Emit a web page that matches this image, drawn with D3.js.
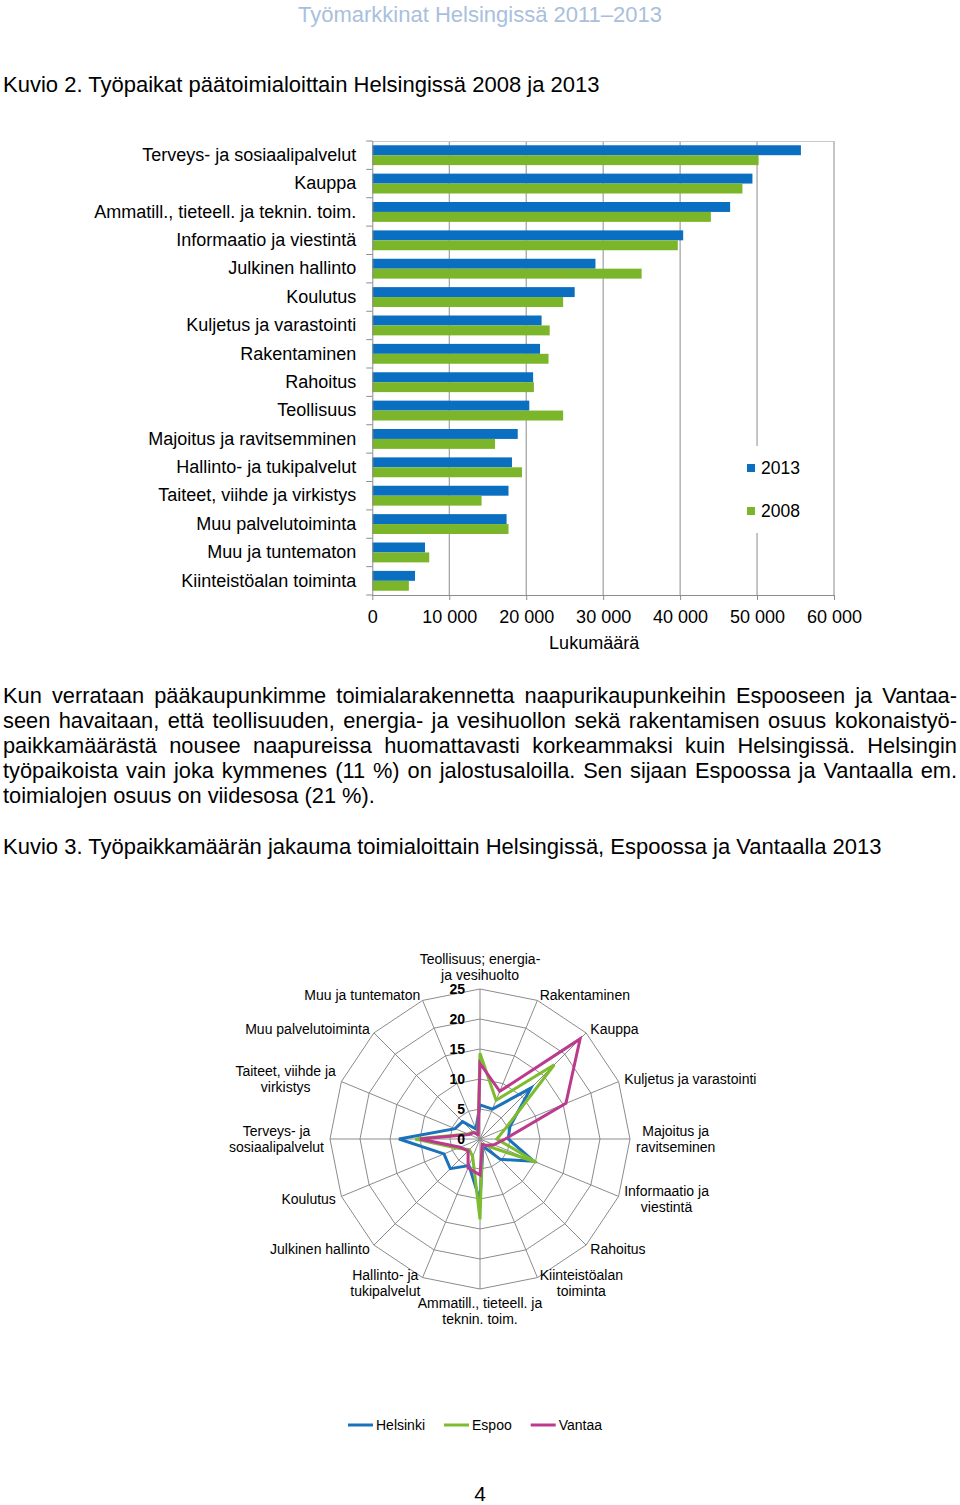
<!DOCTYPE html>
<html><head><meta charset="utf-8">
<script src="https://cdn.jsdelivr.net/npm/d3@7"></script>
<style>
body{margin:0;background:#fff}
svg{display:block}
text{font-family:"Liberation Sans",Arial,Helvetica,sans-serif}
</style>
</head><body>
<svg id="page" width="960" height="1505"></svg>
<script>
// ---------- DATA ----------
const headerText = "Työmarkkinat Helsingissä 2011–2013";
const title2 = "Kuvio 2. Työpaikat päätoimialoittain Helsingissä 2008 ja 2013";
const title3 = "Kuvio 3. Työpaikkamäärän jakauma toimialoittain Helsingissä, Espoossa ja Vantaalla 2013";
const paragraphLines = [
  "Kun verrataan pääkaupunkimme toimialarakennetta naapurikaupunkeihin Espooseen ja Vantaa-",
  "seen havaitaan, että teollisuuden, energia- ja vesihuollon sekä rakentamisen osuus kokonaistyö-",
  "paikkamäärästä nousee naapureissa huomattavasti korkeammaksi kuin Helsingissä. Helsingin",
  "työpaikoista vain joka kymmenes (11 %) on jalostusaloilla. Sen sijaan Espoossa ja Vantaalla em.",
  "toimialojen osuus on viidesosa (21 %)."
];

const barCategories = [
  "Terveys- ja sosiaalipalvelut","Kauppa","Ammatill., tieteell. ja  teknin. toim.",
  "Informaatio ja viestintä","Julkinen hallinto","Koulutus","Kuljetus ja varastointi",
  "Rakentaminen","Rahoitus","Teollisuus","Majoitus ja ravitsemminen",
  "Hallinto- ja tukipalvelut","Taiteet, viihde ja virkistys","Muu palvelutoiminta",
  "Muu ja tuntematon","Kiinteistöalan toiminta"
];
const values2013 = [55700,49400,46500,40400,29000,26300,22000,21800,20900,20400,18900,18150,17700,17450,6850,5550];
const values2008 = [50200,48100,44000,39700,35000,24800,23050,22900,21000,24800,15950,19450,14200,17700,7400,4750];
const barYears = ["2013","2008"];
const xTickValues = [0,10000,20000,30000,40000,50000,60000];
const xAxisTitle = "Lukumäärä";

const radarAxes = [
  "Teollisuus; energia-\nja vesihuolto","Rakentaminen","Kauppa","Kuljetus ja varastointi",
  "Majoitus ja\nravitseminen","Informaatio ja\nviestintä","Rahoitus","Kiinteistöalan\ntoiminta",
  "Ammatill., tieteell. ja\nteknin. toim.","Hallinto- ja\ntukipalvelut","Julkinen hallinto","Koulutus",
  "Terveys- ja\nsosiaalipalvelut","Taiteet, viihde ja\nvirkistys","Muu palvelutoiminta","Muu ja tuntematon"
];
const radarSeriesNames = ["Helsinki","Espoo","Vantaa"];
const helsinki = [5.7,5.4,12.0,5.4,4.7,9.7,4.8,1.3,10.3,4.8,7.0,6.5,13.5,4.5,4.1,1.8];
const espoo    = [14.3,7.0,17.5,4.6,2.8,10.2,1.6,1.0,13.4,3.2,2.5,4.0,10.8,2.2,1.6,0.9];
const vantaa   = [12.6,8.6,23.6,15.5,4.2,2.5,1.5,1.0,6.0,5.2,2.8,3.6,10.0,2.0,1.5,0.8];
const radarTicks = [0,5,10,15,20,25];
const pageNumber = "4";

// ---------- STYLE ----------
const C2013 = "#0a6ec1", C2008 = "#7ab52a";
const radarColors = ["#1a72bd","#7dbb2f","#bb3a8e"];
const gridGray = "#8c8c8c";
const FONT = '"Liberation Sans",Arial,sans-serif';

const svg = d3.select("#page");
svg.append("rect").attr("width",960).attr("height",1505).attr("fill","#fff");

// header
svg.append("text").attr("x",480).attr("y",22).attr("text-anchor","middle")
  .attr("font-size",22).attr("fill","#a9c0dc").text(headerText);
svg.append("text").attr("x",3).attr("y",92).attr("font-size",22).attr("fill","#000").text(title2);

// ---------- BAR CHART ----------
const bx0 = 372.3, bx1 = 834, by0 = 141, by1 = 595;
const x = d3.scaleLinear().domain([0,60000]).range([bx0,bx1]);
const y = d3.scaleBand().domain(barCategories).range([by0,by1]).paddingInner(0.3).paddingOuter(0.15);
const yIn = d3.scaleBand().domain(barYears).range([0,y.bandwidth()]);

const bar = svg.append("g");
bar.append("g").selectAll("line").data(xTickValues.slice(1)).join("line")
  .attr("x1",d=>x(d)).attr("x2",d=>x(d)).attr("y1",by0).attr("y2",by1)
  .attr("stroke",gridGray).attr("stroke-width",1);
bar.append("line").attr("x1",bx0).attr("x2",bx1).attr("y1",by0+0.5).attr("y2",by0+0.5)
  .attr("stroke","#c8c8c8").attr("stroke-width",1);

const rows = barCategories.map((c,i)=>({cat:c, vals:[{year:"2013",v:values2013[i]},{year:"2008",v:values2008[i]}]}));
const rowG = bar.append("g").selectAll("g").data(rows).join("g")
  .attr("transform",d=>`translate(0,${y(d.cat)})`);
rowG.selectAll("rect").data(d=>d.vals).join("rect")
  .attr("x",x(0)).attr("y",d=>yIn(d.year)).attr("height",yIn.bandwidth())
  .attr("width",d=>x(d.v)-x(0))
  .attr("fill",d=>d.year==="2013"?C2013:C2008);

const xAxis = d3.axisBottom(x).tickValues(xTickValues).tickSize(5)
  .tickFormat(d=>d3.format(",")(d).replace(/,/g," "));
const xg = bar.append("g").attr("transform",`translate(0,${by1})`).call(xAxis);
xg.select(".domain").attr("stroke",gridGray).attr("d",`M${bx0},0.5H${bx1}`);
xg.selectAll(".tick line").attr("stroke",gridGray);
xg.selectAll(".tick text").attr("font-size",18).attr("fill","#000").attr("y",15).attr("dy","0.71em")
  .style("font-family",FONT);

const yAxis = d3.axisLeft(y).tickSize(0).tickPadding(16);
const yg = bar.append("g").attr("transform",`translate(${bx0},0)`).call(yAxis);
yg.select(".domain").attr("stroke",gridGray).attr("d",`M0.5,${by0}V${by1}`);
yg.selectAll(".tick text").attr("font-size",18).attr("fill","#000")
  .style("font-family",FONT);
const boundaries = d3.range(barCategories.length+1).map(i=>by0 + i*y.step());
yg.append("g").selectAll("line").data(boundaries).join("line")
  .attr("x1",-6).attr("x2",0).attr("y1",d=>d).attr("y2",d=>d).attr("stroke",gridGray);

bar.append("text").attr("x",(bx0+bx1)/2-9).attr("y",649).attr("text-anchor","middle")
  .attr("font-size",18).text(xAxisTitle);

const lg = bar.append("g");
lg.append("rect").attr("x",742).attr("y",446).attr("width",80).attr("height",87).attr("fill","#fff");
barYears.forEach((yr,i)=>{
  const cy = 468 + i*43;
  lg.append("rect").attr("x",747).attr("y",cy-4).attr("width",8).attr("height",8)
    .attr("fill",yr==="2013"?C2013:C2008);
  lg.append("text").attr("x",761).attr("y",cy+6).attr("font-size",17.5).text(yr);
});

// ---------- PARAGRAPH ----------
const para = svg.append("g").attr("font-size",21.8);
paragraphLines.forEach((line,li)=>{
  const baseY = 703 + li*25;
  const t = para.append("text").attr("y",baseY);
  const words = line.split(" ");
  const spans = words.map(w=>t.append("tspan").text(w));
  const widths = spans.map(s=>s.node().getComputedTextLength());
  const total = d3.sum(widths);
  const justify = li < paragraphLines.length-1;
  const gap = justify ? (957-3-total)/(words.length-1) : 6;
  let cx = 3;
  spans.forEach((s,i)=>{ s.attr("x",cx); cx += widths[i] + gap; });
});

svg.append("text").attr("x",3).attr("y",854).attr("font-size",22).text(title3);

// ---------- RADAR ----------
const rcx = 480, rcy = 1139, R = 150;
const rr = d3.scaleLinear().domain([0,25]).range([0,R]);
const n = radarAxes.length;
const ang = d3.scaleLinear().domain([0,n]).range([0,2*Math.PI]);
const radar = svg.append("g").attr("transform",`translate(${rcx},${rcy})`);

const ringLine = d3.lineRadial().angle((d,i)=>ang(i)).radius(d=>rr(d)).curve(d3.curveLinearClosed);
radar.append("g").selectAll("path").data(radarTicks.slice(1)).join("path")
  .attr("d",v=>ringLine(d3.range(n).map(()=>v)))
  .attr("fill","none").attr("stroke",gridGray).attr("stroke-width",1);
radar.append("g").selectAll("line").data(d3.range(n)).join("line")
  .attr("x1",0).attr("y1",0)
  .attr("x2",i=>rr(25)*Math.sin(ang(i))).attr("y2",i=>-rr(25)*Math.cos(ang(i)))
  .attr("stroke",gridGray).attr("stroke-width",1);

const seriesData = [helsinki, espoo, vantaa];
radar.append("g").selectAll("path").data(seriesData).join("path")
  .attr("d",d=>ringLine(d))
  .attr("fill","none").attr("stroke",(d,i)=>radarColors[i]).attr("stroke-width",3)
  .attr("stroke-linejoin","miter");

radar.append("g").selectAll("text").data(radarTicks).join("text")
  .attr("x",-15).attr("y",d=>-rr(d)+5).attr("text-anchor","end")
  .attr("font-size",14).attr("font-weight","bold").text(d=>d);

const lab = radar.append("g").attr("font-size",14);
radarAxes.forEach((label,i)=>{
  const a = ang(i);
  const dx = Math.sin(a), dy = -Math.cos(a);
  const px = (R+6)*dx, py = (R+6)*dy;
  const lines = label.split("\n");
  const lh = 16;
  const t = lab.append("text");
  const spans = lines.map(l=>t.append("tspan").text(l));
  const widths = spans.map(s=>s.node().getComputedTextLength());
  const w = d3.max(widths);
  const h = lines.length*lh;
  let left;
  if (dx > 0.01) left = px;
  else if (dx < -0.01) left = px - w;
  else left = px - w/2;
  let top;
  if (Math.abs(dx) < 0.01 && dy < 0) top = py - h;
  else if (Math.abs(dx) < 0.01 && dy > 0) top = py;
  else top = py - h/2;
  spans.forEach((s,k)=>{
    s.attr("x",left + w/2).attr("y",top + k*lh + 13).attr("text-anchor","middle");
  });
});

const leg = svg.append("g").attr("font-size",14);
let lx = 348;
radarSeriesNames.forEach((nm,i)=>{
  leg.append("line").attr("x1",lx).attr("x2",lx+25).attr("y1",1425).attr("y2",1425)
    .attr("stroke",radarColors[i]).attr("stroke-width",3);
  const t = leg.append("text").attr("x",lx+28).attr("y",1430).text(nm);
  lx += 28 + t.node().getComputedTextLength() + 19;
});

svg.append("text").attr("x",480).attr("y",1501).attr("text-anchor","middle").attr("font-size",21).text(pageNumber);
</script>
</body></html>
